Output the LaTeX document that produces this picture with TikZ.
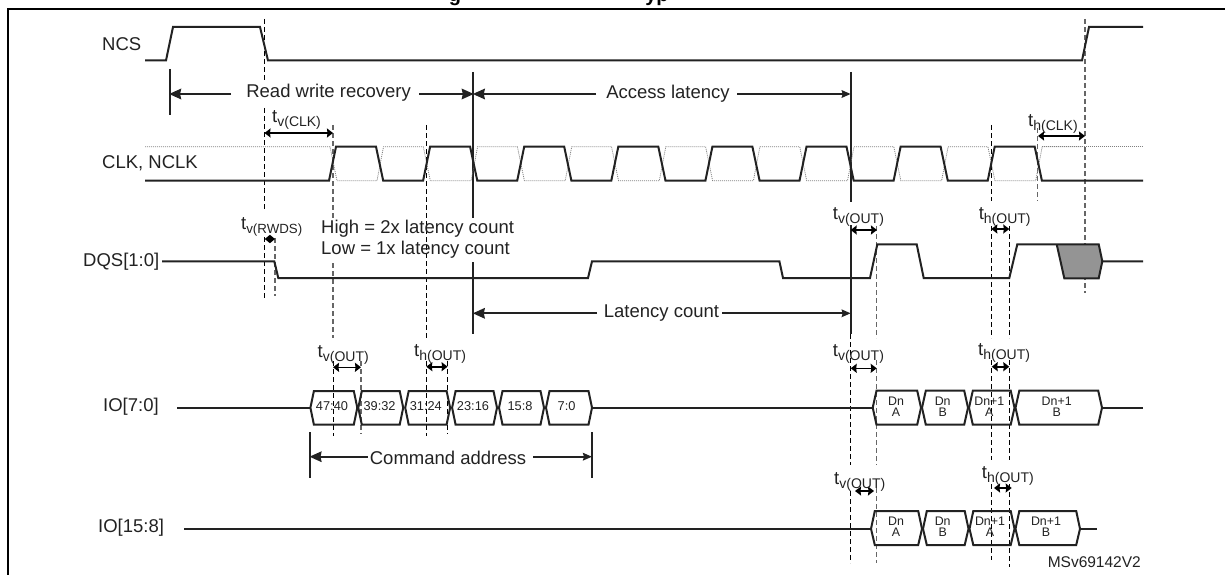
\documentclass[tikz,border=0pt]{standalone}
\usepackage{fontspec}
\setmainfont{Liberation Sans}
\usetikzlibrary{arrows.meta}
\definecolor{ink}{HTML}{222222}
\newcommand{\tsub}[3]{t\raisebox{-4pt}{\fontsize{#1}{#1}\selectfont #2(#3)}}
\tikzset{
  frameline/.style={line width=2.2pt,black},
  sig/.style={line width=2pt,ink,line join=miter},
  dotsig/.style={line width=0.8pt,gray,dash pattern=on 1pt off 1pt},
  guide/.style={line width=1pt,black,dash pattern=on 5pt off 3pt},
  guidegray/.style={line width=1.2pt,black!60,dash pattern=on 5pt off 3pt},
  fence/.style={line width=2pt,ink},
  dimarrow/.style={line width=2pt,ink,-{Stealth[length=12pt,width=10.5pt,inset=1pt]},shorten >=-0.5pt},
  dimarrowsmall/.style={line width=2pt,ink,-{Stealth[length=9pt,width=7.5pt,inset=1pt]}},
  tick/.style={line width=1.6pt,black,{Stealth[length=6pt,width=9pt,inset=0.5pt]}-{Stealth[length=6pt,width=9pt,inset=0.5pt]}},
  lbl/.style={inner sep=0pt,font=\fontsize{18.5}{22}\selectfont,text=ink},
  tlbl/.style={inner sep=0pt,anchor=base west,font=\fontsize{18.5}{22}\selectfont,text=ink},
  cell/.style={inner sep=0pt,font=\fontsize{12.8}{13}\selectfont,text=ink},
  dn/.style={inner sep=0pt,font=\fontsize{12.4}{13}\selectfont,text=ink,align=center},
}
\begin{document}
\begin{tikzpicture}[x=1pt,y=-1pt]
\useasboundingbox (0,0) rectangle (1225,575);
% frame and clipped title
\draw[frameline] (8,575) -- (8,9) -- (1225,9);
\begin{scope}
\clip (0,0) rectangle (1225,8);
\node[anchor=base,inner sep=0pt,font=\bfseries\fontsize{20}{22}\selectfont] (titleg) at (455,1.5) {g};
\node[anchor=base,inner sep=0pt,font=\bfseries\fontsize{20}{22}\selectfont] (titleyp) at (657,1.5) {yp};
\end{scope}
% guides
\draw[guide] (264.5,19) -- (264.5,81);
\draw[guide] (264.5,108) -- (264.5,210);
\draw[guide] (264.5,237) -- (264.5,299);
\draw[guidegray] (275,238) -- (275,296);
\draw[guidegray] (333,125) -- (333,220);
\draw[guidegray] (333,263) -- (333,338);
\draw[guide] (426.3,125) -- (426.3,338);
\draw[guidegray] (1085,19) -- (1085,293);
\draw[guide] (991.3,125) -- (991.3,201);
\draw[guidegray] (1037.8,128) -- (1037.8,201);
\draw[guide] (991.3,226) -- (991.3,338);
\draw[guide] (1009.3,226) -- (1009.3,338);
\draw[guidegray] (876.7,226) -- (876.7,338);
\draw[guide] (333,361) -- (333,436);
\draw[guidegray] (361,361) -- (361,434);
\draw[guide] (426.3,361) -- (426.3,436);
\draw[guide] (447.6,361) -- (447.6,434);
\draw[guide] (850.7,334) -- (850.7,465);
\draw[guidegray] (876.7,360) -- (876.7,465);
\draw[guide] (991.5,360) -- (991.5,460);
\draw[guide] (1009.3,360) -- (1009.3,460);
\draw[guide] (850.7,491) -- (850.7,563);
\draw[guidegray] (876.7,488) -- (876.7,563);
\draw[guide] (991.5,484) -- (991.5,560);
\draw[guide] (1009.3,484) -- (1009.3,567);
% solid fences
\draw[fence] (169.6,69) -- (169.6,115);
\draw[fence] (473.3,72) -- (473.3,218);
\draw[fence] (473.3,262) -- (473.3,334);
\draw[fence] (850.7,72) -- (850.7,202);
\draw[fence] (850.7,225) -- (850.7,334);
\draw[fence] (310,432) -- (310,478);
\draw[fence] (592,432) -- (592,478);
% NCS
\draw[sig] (145,60.5) -- (166,60.5) -- (173,27) -- (260,27) -- (268,60.5) -- (1082,60.5) -- (1089,27) -- (1143,27);
% CLK complement (dotted)
\draw[dotsig] (145,146.7) -- (330,146.7) -- (337,180.7)
  \foreach \k in {0,...,7} { -- ({377+94.1*\k},180.7) -- ({383.5+94.1*\k},146.7) -- ({423.3+94.1*\k},146.7)
  \ifnum\k<7 -- ({430.3+94.1*\k},180.7)\fi };
\draw[dotsig] (1041.7,146.7) -- (1143,146.7);
% CLK
\draw[sig] (145,180.7) -- (329,180.7)
  \foreach \k in {0,...,7} { -- ({329+94.1*\k},180.7) -- ({336+94.1*\k},146.7) -- ({376+94.1*\k},146.7) -- ({383.2+94.1*\k},180.7) -- ({423.1+94.1*\k},180.7) }
  -- (1143,180.7);
% DQS
\fill[black!42] (1056.7,244.3) -- (1064.3,278.3) -- (1098.7,278.3) -- (1102.3,261.3) -- (1098.7,244.3) -- cycle;
\draw[sig] (162,261.3) -- (274.3,261.3) -- (278.3,278) -- (588,278) -- (592,261.3) -- (779.4,261.3) -- (783,278) -- (870,278) -- (877.3,244.3) -- (916.7,244.3) -- (923.7,278) -- (1009.3,278) -- (1017.3,244.3) -- (1098.7,244.3) -- (1102.3,261.3) -- (1143,261.3);
\draw[sig] (1056.7,244.3) -- (1064.3,278.3) -- (1098.7,278.3) -- (1102.3,261.3);
% IO[7:0]
\draw[sig] (177,407.7) -- (310.4,407.7);
\draw[sig] (592,407.7) -- (872.7,407.7);
\foreach \a/\b in {310.4/357.3,358.3/403.2,405.2/450.1,452.1/497,499/544,546/592} {
  \draw[sig] (\a,407.7) -- ({\a+3.5},391) -- ({\b-3.5},391) -- (\b,407.7) -- ({\b-3.5},424.7) -- ({\a+3.5},424.7) -- cycle;
}
\foreach \a/\b in {872.7/921,922/968,969/1014.5,1015.5/1102} {
  \draw[sig] (\a,407.7) -- ({\a+3.8},390.7) -- ({\b-3.8},390.7) -- (\b,407.7) -- ({\b-3.8},424.7) -- ({\a+3.8},424.7) -- cycle;
}
\draw[sig] (1102,407.7) -- (1143,407.7);
% IO[15:8]
\draw[sig] (184,528.8) -- (871,528.8);
\foreach \a/\b in {871/922,923/968.5,969.5/1014.5,1015.5/1080} {
  \draw[sig] (\a,528.8) -- ({\a+3.8},511) -- ({\b-3.8},511) -- (\b,528.8) -- ({\b-3.8},545) -- ({\a+3.8},545) -- cycle;
}
\draw[sig] (1080,528.8) -- (1096.7,528.8);
% dimension labels and arrows
\node[lbl] (rwr) at (328.6,93) {Read write recovery};
\coordinate (rwrL) at (231,94); \coordinate (rwrR) at (419,94);
\draw[dimarrow] (rwrL) -- (169.6,94);
\draw[dimarrow] (rwrR) -- (473.3,94);
\node[lbl] (al) at (668,94) {Access latency};
\coordinate (alL) at (596,94); \coordinate (alR) at (737,94);
\draw[dimarrow] (alL) -- (473.3,94);
\draw[dimarrowsmall] (alR) -- (850.7,94);
\node[lbl] (lc) at (661.5,313) {Latency count};
\coordinate (lcL) at (597,313.3); \coordinate (lcR) at (722,313.3);
\draw[dimarrow] (lcL) -- (473.3,313.3);
\draw[dimarrowsmall] (lcR) -- (850.7,313.3);
\node[lbl] (ca) at (448,458) {Command address};
\coordinate (caL) at (367.7,456.7); \coordinate (caR) at (533,456.7);
\draw[dimarrow] (caL) -- (310,456.7);
\draw[dimarrowsmall] (caR) -- (592,456.7);
% timing ticks and labels
\draw[tick] (264.5,133) -- (333,133);
\node[tlbl] (tvclk) at (272,122.5) {\tsub{14}{v}{CLK}};
\draw[tick] (1038,136) -- (1085,136);
\node[tlbl] (thclk) at (1028,126) {\tsub{14}{h}{CLK}};
\draw[line width=1.2pt,black,{Stealth[length=5pt,width=8pt,inset=0pt]}-{Stealth[length=5pt,width=8pt,inset=0pt]}] (264.8,239) -- (275,239);
\node[tlbl] (tvrwds) at (241,229.3) {\tsub{13.3}{v}{RWDS}};
\draw[tick] (850.7,230) -- (877,230);
\node[tlbl] (tvo1) at (832.7,219.3) {\tsub{14}{v}{OUT}};
\draw[tick] (991.3,229) -- (1009.3,229);
\node[tlbl] (tho1) at (978.6,219) {\tsub{14}{h}{OUT}};
\draw[tick] (333,367.3) -- (361,367.3);
\node[tlbl] (tvo2) at (317.5,357.7) {\tsub{14}{v}{OUT}};
\draw[tick] (426.3,366.7) -- (447.6,366.7);
\node[tlbl] (tho2) at (414,356.7) {\tsub{14}{h}{OUT}};
\draw[tick] (850.7,368.3) -- (876.7,368.3);
\node[tlbl] (tvo3) at (832.7,356.7) {\tsub{14}{v}{OUT}};
\draw[tick] (991.7,366.7) -- (1009.3,366.7);
\node[tlbl] (tho3) at (978,355) {\tsub{14}{h}{OUT}};
\draw[tick] (855,491) -- (874,491);
\node[tlbl] (tvo4) at (834,484) {\tsub{14}{v}{OUT}};
\draw[tick] (994,488) -- (1011.7,488);
\node[tlbl] (tho4) at (981.7,478.3) {\tsub{14}{h}{OUT}};
% signal names
\node[lbl,anchor=west] (ncs) at (102,44.5) {NCS};
\node[lbl,anchor=west] (clk) at (102,163) {CLK, NCLK};
\node[lbl,anchor=west] (dqs) at (83,262) {DQS[1:0]};
\node[lbl,anchor=west] (io70) at (103,406.7) {IO[7:0]};
\node[lbl,anchor=west] (io158) at (98,528) {IO[15:8]};
\node[lbl,anchor=west] (hi) at (321,229) {High = 2x latency count};
\node[lbl,anchor=west] (lo) at (321,249.5) {Low = 1x latency count};
\node[inner sep=0pt,anchor=east,font=\fontsize{15.5}{18}\selectfont,text=ink] (ref) at (1141,562) {MSv69142V2};
% cell texts
\node[cell] (c1) at (332,405.7) {47:40};
\node[cell] (c2) at (379.6,405.7) {39:32};
\node[cell] (c3) at (425.8,405.7) {31:24};
\node[cell] (c4) at (473,405.7) {23:16};
\node[cell] (c5) at (520,405.7) {15:8};
\node[cell] (c6) at (566.6,405.7) {7:0};
\node[dn] (d1) at (896,406.5) {Dn\\[-1.5pt]A};
\node[dn] (d2) at (942.7,406.5) {Dn\\[-1.5pt]B};
\node[dn] (d3) at (989.3,406.5) {Dn+1\\[-1.5pt]A};
\node[dn] (d4) at (1056.7,406.5) {Dn+1\\[-1.5pt]B};
\node[dn] (e1) at (896,526.5) {Dn\\[-1.5pt]A};
\node[dn] (e2) at (942.7,526.5) {Dn\\[-1.5pt]B};
\node[dn] (e3) at (990,526.5) {Dn+1\\[-1.5pt]A};
\node[dn] (e4) at (1046,526.5) {Dn+1\\[-1.5pt]B};
\end{tikzpicture}
\end{document}
